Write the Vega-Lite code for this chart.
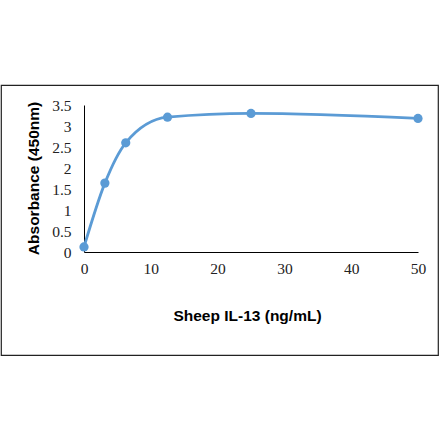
{
  "$schema": "https://vega.github.io/schema/vega-lite/v6.json",
  "autosize": "none",
  "width": 437,
  "height": 270,
  "padding": {"left": 1, "top": 85, "right": 2, "bottom": 86},
  "background": "white",
  "config": {"view": {"stroke": "#222222", "strokeWidth": 1.2}},
  "data": {"values": [
    {"conc": 0, "abs": 0.12},
    {"conc": 3.125, "abs": 1.64},
    {"conc": 6.25, "abs": 2.6},
    {"conc": 12.5, "abs": 3.21},
    {"conc": 25, "abs": 3.3},
    {"conc": 50, "abs": 3.18}
  ]},
  "encoding": {
    "x": {"field": "conc", "type": "quantitative",
      "scale": {"domain": [0, 50], "range": [83, 417], "nice": false},
      "axis": {"title": "Sheep IL-13 (ng/mL)", "offset": -103, "values": [0,10,20,30,40,50], "format": "d",
        "ticks": false, "grid": false, "domainColor": "#000000", "domainWidth": 1,
        "labelFlush": false, "labelOverlap": false,
        "labelFont": "Liberation Serif", "labelFontSize": 15.5, "labelColor": "#222222", "labelPadding": 9,
        "titleFont": "Liberation Sans", "titleFontSize": 15.5, "titleFontWeight": "bold", "titleColor": "#000000",
        "titleX": 246, "titleY": 63, "titleBaseline": "middle", "titleAlign": "center"}},
    "y": {"field": "abs", "type": "quantitative",
      "scale": {"domain": [0, 3.5], "range": [167, 20], "nice": false},
      "axis": {"title": "Absorbance (450nm)", "offset": -83, "values": [0,0.5,1,1.5,2,2.5,3,3.5], "format": "~g",
        "ticks": false, "grid": false, "domainColor": "#000000", "domainWidth": 1,
        "labelFlush": false, "labelOverlap": false,
        "labelFont": "Liberation Serif", "labelFontSize": 15.5, "labelColor": "#222222", "labelPadding": 13,
        "titleFont": "Liberation Sans", "titleFontSize": 15.5, "titleFontWeight": "bold", "titleColor": "#000000",
        "titleX": -51, "titleY": 93, "titleBaseline": "middle", "titleAlign": "center", "titleAngle": -90}}
  },
  "layer": [
    {"mark": {"type": "line", "interpolate": "monotone", "color": "#5b9bd5", "strokeWidth": 2.8}},
    {"mark": {"type": "point", "filled": true, "opacity": 1, "size": 85, "color": "#5b9bd5"}}
  ]
}
